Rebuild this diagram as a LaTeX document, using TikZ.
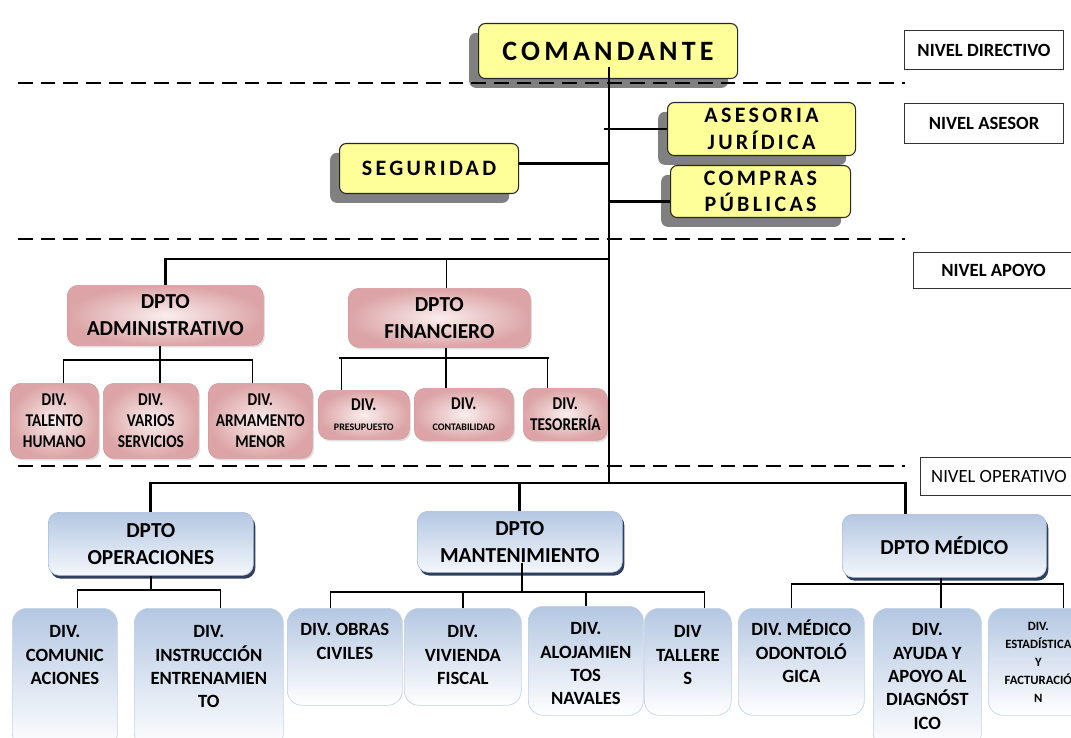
\documentclass[tikz,border=0pt]{standalone}
\usepackage{fontspec}
\setmainfont{Carlito}
\newfontfamily\widefont[LetterSpace=15]{Carlito}
\newfontfamily\narrowfont[FakeStretch=0.85]{Carlito}
\usetikzlibrary{shadows}

\newdimen\px \px=0.75pt
% text at the top of a fixed box: width, height, top gap, text
\newcommand{\toptext}[4]{\parbox[c][#2\px][t]{#1\px}{\centering\vspace*{#3\px}\strut #4\par}}

\definecolor{yellowfill}{HTML}{FFFF99}
\definecolor{pinkin}{HTML}{FAEEEE}
\definecolor{pinkout}{HTML}{DCA4A6}
\definecolor{pinkedge}{HTML}{D7999B}
\definecolor{bluetop}{HTML}{B4C7E2}
\definecolor{bluebot}{HTML}{F4F7FC}
\definecolor{blueedge}{HTML}{A9BFDD}
\definecolor{navyshadow}{HTML}{2F3E5C}

\tikzset{
  boxsize/.style 2 args={minimum width=#1\px, minimum height=#2\px},
  yellowbox/.style={anchor=north west, draw=black!85, line width=0.8pt, fill=yellowfill,
    rounded corners=5pt, inner sep=0pt, align=center,
    font=\widefont\bfseries\fontsize{16.5}{20}\selectfont,
    drop shadow={shadow xshift=-7pt, shadow yshift=-7pt, fill=black!50, opacity=1}},
  nivel/.style={anchor=north west, draw=black!80, line width=0.8pt, fill=white, inner sep=0pt,
    font=\bfseries\fontsize{14}{16}\selectfont},
  pinkdpto/.style={anchor=north west, draw=pinkedge, line width=0.5pt, inner color=pinkin,
    outer color=pinkout, rounded corners=8pt, inner sep=0pt, align=center,
    font=\bfseries\fontsize{16}{20}\selectfont,
    drop shadow={shadow xshift=1.2pt, shadow yshift=-1.5pt, opacity=.25}},
  pinkdiv/.style={pinkdpto, font=\narrowfont\bfseries\fontsize{13.5}{15.5}\selectfont},
  bluedpto/.style={anchor=north west, draw=blueedge, line width=0.5pt, top color=bluetop,
    bottom color=bluebot, rounded corners=8pt, inner sep=0pt, align=center,
    font=\bfseries\fontsize{16}{20}\selectfont,
    drop shadow={shadow xshift=1.5pt, shadow yshift=-2.5pt, fill=navyshadow, opacity=1}},
  bluediv/.style={anchor=north west, draw=blueedge!70, line width=0.5pt, top color=bluetop,
    bottom color=white, rounded corners=11pt, inner sep=0pt,
    font=\bfseries\fontsize{14}{17.5}\selectfont},
  trunk/.style={line width=2.2pt},
  midline/.style={line width=1.8pt},
  thinline/.style={line width=1.1pt},
  levelline/.style={line width=2.2pt, dash pattern=on 11pt off 6pt},
}

\begin{document}
\begin{tikzpicture}[x=1\px, y=-1\px]
\useasboundingbox (0,0) rectangle (1071,738);

% nivel directivo y asesor
\node[yellowbox, boxsize={259}{55}, font=\widefont\bfseries\fontsize{21}{24}\selectfont] (coman) at (478,23) {COMANDANTE};
\node[yellowbox, boxsize={188}{53}] (asesoria) at (667,102) {ASESORIA\\JURÍDICA};
\node[yellowbox, boxsize={180}{52}] (compras) at (670,165) {COMPRAS\\PÚBLICAS};
\node[yellowbox, boxsize={179}{50}] (seguridad) at (339,143) {SEGURIDAD};

\node[nivel, boxsize={159}{39}] (nivdir) at (904,30) {NIVEL DIRECTIVO};
\node[nivel, boxsize={159}{40}] (nivase) at (904,103) {NIVEL ASESOR};
\node[nivel, boxsize={160}{36}] (nivapo) at (913,252) {NIVEL APOYO};
\node[nivel, boxsize={157}{38}, font=\fontsize{14}{16}\selectfont] (nivope) at (920,457) {NIVEL OPERATIVO};

% nivel apoyo
\node[pinkdpto, boxsize={196}{60}] (admin) at (67,285) {DPTO\\ADMINISTRATIVO};
\node[pinkdpto, boxsize={182}{59}] (finan) at (348,288) {DPTO\\FINANCIERO};

\node[pinkdiv, boxsize={88}{75}] (talento) at (10,383) {DIV.\\TALENTO\\HUMANO};
\node[pinkdiv, boxsize={95}{75}] (varios) at (103,383) {DIV.\\VARIOS\\SERVICIOS};
\node[pinkdiv, boxsize={104}{75}] (armamento) at (208,383) {DIV.\\ARMAMENTO\\MENOR};
\node[pinkdiv, boxsize={91}{49}] (presup) at (318,390) {DIV.\\{\rmfamily\bfseries\fontsize{7.5}{9}\selectfont PRESUPUESTO}};
\node[pinkdiv, boxsize={99}{52}] (contab) at (414,388) {DIV.\\{\rmfamily\bfseries\fontsize{7.5}{9}\selectfont CONTABILIDAD}};
\node[pinkdiv, boxsize={84}{52}] (tesor) at (523,388) {DIV.\\TESORERÍA};

% nivel operativo
\node[bluedpto, boxsize={205}{63}] (ops) at (48,512) {DPTO\\OPERACIONES};
\node[bluedpto, boxsize={205}{61}] (mant) at (417,511) {DPTO\\MANTENIMIENTO};
\node[bluedpto, boxsize={204}{63}] (medico) at (842,514) {DPTO MÉDICO};

\node[bluediv] (comu) at (12,608) {\toptext{105}{140}{13}{DIV.\\COMUNIC\\ACIONES}};
\node[bluediv] (instr) at (134,608) {\toptext{149}{140}{13}{DIV.\\INSTRUCCIÓN\\ENTRENAMIEN\\TO}};
\node[bluediv] (obras) at (287,608) {\toptext{115}{97}{11}{DIV. OBRAS\\CIVILES}};
\node[bluediv] (vivienda) at (404,608) {\toptext{117}{97}{13}{DIV.\\VIVIENDA\\FISCAL}};
\node[bluediv] (aloja) at (528,606) {\toptext{115}{109}{12}{DIV.\\ALOJAMIEN\\TOS\\NAVALES}};
\node[bluediv] (talleres) at (644,608) {\toptext{87}{107}{13}{DIV\\TALLERE\\S}};
\node[bluediv] (odonto) at (738,608) {\toptext{126}{107}{11}{DIV. MÉDICO\\ODONTOLÓ\\GICA}};
\node[bluediv] (ayuda) at (873,608) {\toptext{108}{140}{11}{DIV.\\AYUDA Y\\APOYO AL\\DIAGNÓST\\ICO}};
\node[bluediv, font=\bfseries\fontsize{9.5}{13.5}\selectfont] (estad) at (988,608) {\toptext{100}{107}{10}{DIV.\\ESTADÍSTICA\\Y\\FACTURACIÓ\\N}};

% separaciones de niveles
\draw[levelline] (18,83) -- (905,83);
\draw[levelline] (18,239) -- (905,239);
\draw[levelline] (18,466) -- (905,466);

\coordinate (apjoin) at (609,259);
\coordinate (opjoin) at (609,483);

% tronco y asesores
\draw[trunk] ([yshift=9pt]coman.south -| opjoin) -- (opjoin);
\draw[midline] ([xshift=-4pt]asesoria.west -| opjoin) -- (asesoria.west);
\draw[midline] ([yshift=-7.5pt]compras.west) -- ([yshift=-7.5pt]compras.west -| opjoin);
\draw[midline] ([yshift=3.75pt]seguridad.east) -- ([yshift=3.75pt]seguridad.east -| opjoin);

% apoyo
\draw[trunk] (admin.north) |- (apjoin);
\draw[thinline] ([xshift=5.25pt]finan.north) -- ([xshift=5.25pt]finan.north |- apjoin);

\coordinate (admbar) at (160,360);
\draw[thinline] (admin.south -| admbar) -- (admbar |- varios.north);
\draw[thinline] ([xshift=6.75pt]talento.north) |- (admbar) -| ([xshift=-6pt]armamento.north);

\coordinate (finbar) at (446,358);
\draw[thinline] (finan.south -| finbar) -- (finbar |- contab.north);
\draw[thinline] ([xshift=-16.9pt]presup.north) |- (finbar) -| ([xshift=-13.5pt]tesor.north);
\draw[trunk] ([xshift=-18.5pt]presup.north |- finbar) -- ([xshift=-12pt]tesor.north |- finbar);

% operativo
\draw[trunk] (ops.north) |- (opjoin);
\draw[trunk] (mant.north) -- (mant.north |- opjoin);
\draw[trunk] (opjoin) -| ([xshift=-29.25pt]medico.north);

\coordinate (opsbar) at (152,590);
\draw[thinline] (ops.south) -- (ops.south |- opsbar);
\draw[thinline] ([xshift=9.4pt]comu.north) |- (opsbar) -| ([xshift=8.6pt]instr.north);

\coordinate (mantbar) at (522,592);
\draw[thinline] ([yshift=7.5pt]mant.south -| mantbar) -- (mantbar);
\draw[thinline] ([xshift=-10.9pt]obras.north) |- (mantbar) -| ([xshift=12.4pt]talleres.north);
\draw[thinline] (vivienda.north) -- (vivienda.north |- mantbar);
\draw[thinline] (aloja.north) -- (aloja.north |- mantbar);

\coordinate (medbar) at (941,584);
\draw[thinline] (medico.south -| medbar) -- (medbar |- ayuda.north);
\draw[thinline] ([xshift=-7.5pt]odonto.north) |- (medbar) -| ([xshift=18.75pt]estad.north);
\end{tikzpicture}
\end{document}
